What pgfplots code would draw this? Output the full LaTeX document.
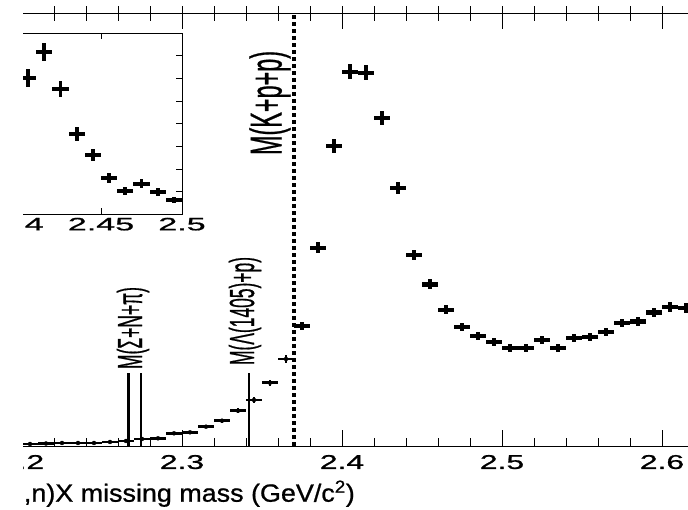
\documentclass[border=0pt]{standalone}
\usepackage{pgfplots}
\pgfplotsset{compat=1.18}
\usepackage{pgfplotstable}
\usepackage{fontspec}
\setmainfont{Liberation Sans}[FakeBold=0.8]

% missing-mass spectrum: bin centre, counts, half bin width, stat. error
\pgfplotstableread{
x      y      ex      ey
2.195  2.0    0.0047  1.5
2.205  2.0    0.0047  1.5
2.215  2.5    0.0047  1.5
2.225  3.0    0.0047  1.5
2.235  3.0    0.0047  1.5
2.245  3.0    0.0047  1.5
2.255  4.0    0.0047  1.5
2.265  5.0    0.0047  1.5
2.275  7.0    0.0047  1.5
2.285  7.7    0.0047  1.5
2.295  12.7   0.0047  1.5
2.305  13.7   0.0047  1.5
2.315  19.3   0.0047  1.7
2.325  25.3   0.0047  2.0
2.335  35.3   0.0047  2.3
2.345  46.0   0.0047  2.6
2.355  63.3   0.0047  3.1
2.365  87.0   0.0047  3.6
}\lowdata
\pgfplotstableread{
x      y      ex      ey
2.375  120    0.0047  4.3
2.385  198    0.0047  5.5
2.395  300    0.0047  6.8
2.405  374    0.0047  7.5
2.415  373    0.0047  7.5
2.425  328    0.0047  7.1
2.435  258    0.0047  6.3
2.445  191    0.0047  5.4
2.455  161.5  0.0047  5.0
2.465  136    0.0047  4.5
2.475  119    0.0047  4.3
2.485  110    0.0047  4.1
2.495  104    0.0047  4.0
2.505  98     0.0047  3.9
2.515  98     0.0047  3.9
2.525  106    0.0047  4.0
2.535  98     0.0047  3.9
2.545  108    0.0047  4.0
2.555  109    0.0047  4.1
2.565  114    0.0047  4.2
2.575  123    0.0047  4.3
2.585  124.5  0.0047  4.3
2.595  133.5  0.0047  4.5
2.605  139    0.0047  4.6
2.615  138    0.0047  4.6
}\highdata
% zoomed spectrum shown in the inset
\pgfplotstableread{
x      y      ex      ey
2.405  6.02   0.005   0.38
2.415  7.17   0.005   0.40
2.425  5.53   0.005   0.36
2.435  3.55   0.005   0.30
2.445  2.62   0.005   0.26
2.455  1.62   0.005   0.22
2.465  1.04   0.005   0.18
2.475  1.34   0.005   0.20
2.485  0.97   0.005   0.17
2.495  0.63   0.005   0.15
}\insetdata

\begin{document}
\begin{tikzpicture}[x=1bp,y=1bp]
\useasboundingbox (0,0) rectangle (688,510);
\begin{scope}
\clip (23,0) rectangle (688,510);

% main spectrum
\begin{axis}[
  at={(-138bp,64bp)}, anchor=south west,
  scale only axis, width=960bp, height=432.7bp,
  xmin=2.1, xmax=2.7, ymin=0, ymax=432.7,
  xtick={2.1,2.2,2.3,2.4,2.5,2.6,2.7}, minor x tick num=4,
  ytick=\empty,
  tick align=inside,
  major tick length=16bp, minor tick length=8bp,
  every tick/.style={black, line width=0.9bp},
  axis line style={black, line width=0.9bp},
  /pgf/number format/assume math mode=true,
  xticklabel={\scalebox{1.6}[1]{\fontsize{20}{22}\selectfont\pgfmathprintnumber[fixed,precision=1]{\tick}}},
  xticklabel style={yshift=-5.5bp},
]
% thresholds
\addplot[black, line width=3bp] coordinates {(2.26625,0) (2.26625,73)};
\addplot[black, line width=1.2bp] coordinates {(2.2744,0) (2.2744,73)};
\addplot[black, line width=1.2bp] coordinates {(2.3419,0) (2.3419,73)};
\addplot[black, line width=4bp, dash pattern=on 3.5bp off 3.5bp] coordinates {(2.370,0) (2.370,432.7)};
% data
\addplot[only marks, mark=none,
  error bars/.cd, x dir=both, x explicit, y dir=both, y explicit,
  error mark=none, error bar style={black, line width=2.8bp}]
  table[x=x, y=y, x error=ex, y error=ey] {\lowdata};
\addplot[only marks, mark=none,
  error bars/.cd, x dir=both, x explicit, y dir=both, y explicit,
  error mark=none, error bar style={black, line width=4.4bp}]
  table[x=x, y=y, x error=ex, y error=ey] {\highdata};
\end{axis}

% outer tick stubs along the upper edge
\begin{axis}[
  at={(-138bp,64bp)}, anchor=south west,
  scale only axis, width=960bp, height=432.7bp,
  xmin=2.1, xmax=2.7, ymin=0, ymax=1,
  hide y axis, axis x line*=top,
  xtick={2.1,2.2,2.3,2.4,2.5,2.6,2.7}, minor x tick num=4,
  xticklabels={},
  tick align=outside,
  major tick length=7bp, minor tick length=7bp,
  every tick/.style={black, line width=0.9bp},
  axis line style={black, line width=0.9bp},
]
\end{axis}

% threshold labels
\node[rotate=90, inner sep=0] at (133,182) {\scalebox{1}[2.0]{\fontsize{17.5}{18}\selectfont M(Σ+N+π)}};
\node[rotate=90, inner sep=0] at (245,199) {\scalebox{1}[2.0]{\fontsize{17.5}{18}\selectfont M(Λ(1405)+p)}};
\node[rotate=90, inner sep=0] at (270,407) {\scalebox{1}[1.9]{\fontsize{23.5}{25}\selectfont M(K+p+p)}};

% x-axis title
\node[anchor=base east, inner sep=0] at (355,8.3) {\scalebox{1.08}[1]{\fontsize{25}{27}\selectfont \textsuperscript{3}He(K\textsuperscript{−},n)X missing mass (GeV/c\textsuperscript{2})}};

% inset
\begin{axis}[
  at={(-61bp,295.7bp)}, anchor=south west,
  scale only axis, width=243bp, height=181bp,
  xmin=2.35, xmax=2.5, ymin=0, ymax=8,
  axis background/.style={fill=white},
  xtick={2.35,2.4,2.45,2.5},
  ytick={0,1,2,3,4,5,6,7,8}, yticklabels={},
  tick align=inside,
  major tick length=6bp,
  every tick/.style={black, line width=0.9bp},
  axis line style={black, line width=0.9bp},
  /pgf/number format/assume math mode=true,
  xticklabel={\scalebox{1.9}[1]{\fontsize{18}{20}\selectfont\pgfmathprintnumber[fixed,precision=2]{\tick}}},
]
\addplot[only marks, mark=none,
  error bars/.cd, x dir=both, x explicit, y dir=both, y explicit,
  error mark=none, error bar style={black, line width=3.8bp}]
  table[x=x, y=y, x error=ex, y error=ey] {\insetdata};
\end{axis}
\end{scope}
\end{tikzpicture}
\end{document}
